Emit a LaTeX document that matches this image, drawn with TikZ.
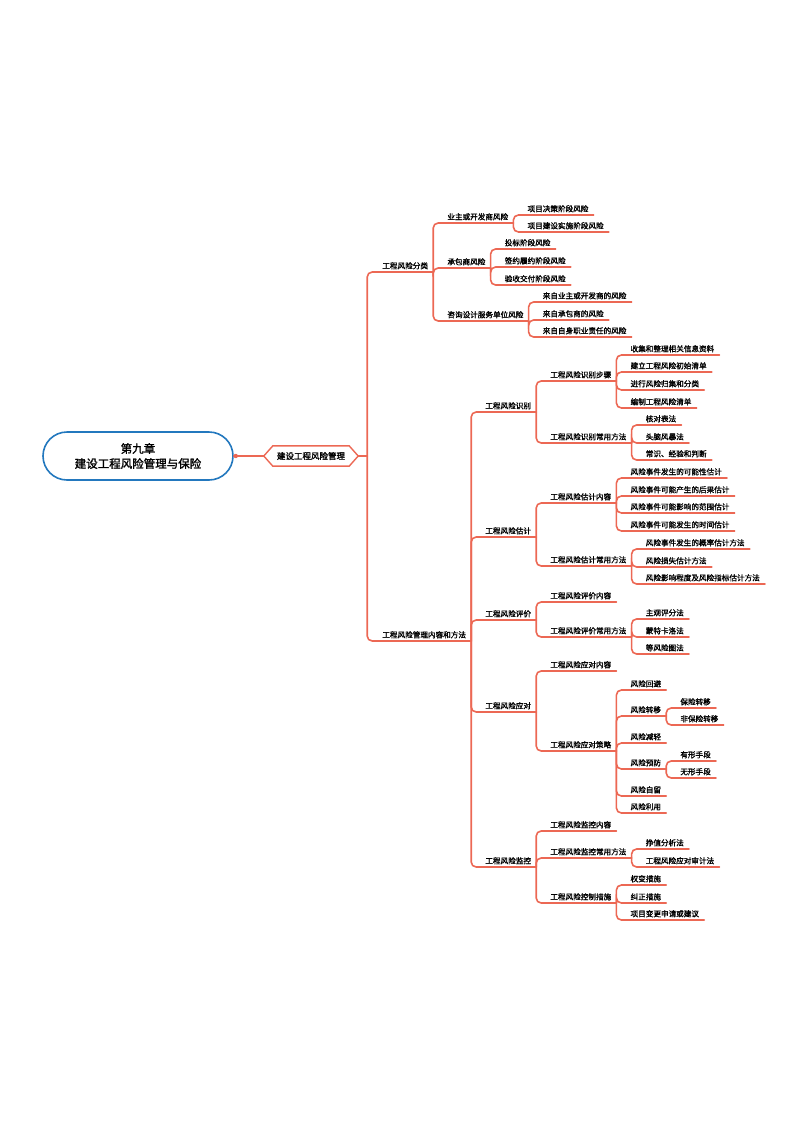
\documentclass[tikz,border=0pt]{standalone}
\usepackage{fontspec}
\setmainfont{Noto Sans CJK SC}[AutoFakeBold=1.6]
\usetikzlibrary{calc}
\definecolor{br}{RGB}{236,104,84}
\definecolor{rb}{RGB}{35,120,190}
\tikzset{
  lf/.style={anchor=south west,inner xsep=5pt,inner ysep=2.5pt,font=\bfseries\fontsize{7.6}{8}\selectfont,
    append after command={(\tikzlastnode.south west) edge[brl] (\tikzlastnode.south east)}},
  brl/.style={draw=br,line width=1.6pt,line cap=round},
  brc/.style={brl,rounded corners=5pt},
}
\newcommand{\kid}[4]{%
  \path (#1.south east) ++(9,0) coordinate (tmp);
  \node[lf] (#2) at (tmp |- 0,#3) {#4};
  \draw[brc] (#1.south east) |- (#2.south west);}
\begin{document}
\begin{tikzpicture}[x=1pt,y=-1pt]
\useasboundingbox (0,0) rectangle (800,1130);
\node[draw=rb,line width=1.6pt,rounded corners=24pt,minimum width=190pt,minimum height=48pt,align=center,
  font=\bfseries\fontsize{11.5}{15}\selectfont] (root) at (138,456) {第九章\\建设工程风险管理与保险};
\node[inner xsep=13pt,inner ysep=6pt,font=\bfseries\fontsize{8.5}{9}\selectfont] (h) at (311,456) {建设工程风险管理};
\draw[brl,line width=1.4pt] (h.west) -- ([xshift=9]h.north west) -- ([xshift=-9]h.north east) -- (h.east) -- ([xshift=-9]h.south east) -- ([xshift=9]h.south west) -- cycle;
\draw[brl] (root.east) -- (h.west);
\fill[br] (root.east) ++(2,0) circle (2.2pt);
\coordinate (hx) at ($(h.east)+(9,0)$);
\draw[brl] (h.east) -- (hx);
\node[lf] (a) at ($(hx|-0,272)+(10,0)$) {工程风险分类};
\node[lf] (b) at ($(hx|-0,641)+(10,0)$) {工程风险管理内容和方法};
\draw[brc] (hx) |- (a.south west);
\draw[brc] (hx) |- (b.south west);
% 分类
\kid{a}{a1}{223}{业主或开发商风险}
\kid{a}{a2}{268}{承包商风险}
\kid{a}{a3}{321}{咨询设计服务单位风险}
\kid{a1}{a11}{215}{项目决策阶段风险}
\kid{a1}{a12}{232}{项目建设实施阶段风险}
\kid{a2}{a21}{249}{投标阶段风险}
\kid{a2}{a22}{267}{签约履约阶段风险}
\kid{a2}{a23}{285}{验收交付阶段风险}
\kid{a3}{a31}{302}{来自业主或开发商的风险}
\kid{a3}{a32}{320}{来自承包商的风险}
\kid{a3}{a33}{337}{来自自身职业责任的风险}
% 内容和方法
\kid{b}{b1}{412}{工程风险识别}
\kid{b}{b2}{537}{工程风险估计}
\kid{b}{b3}{620}{工程风险评价}
\kid{b}{b4}{712}{工程风险应对}
\kid{b}{b5}{867}{工程风险监控}
\kid{b1}{b11}{381}{工程风险识别步骤}
\kid{b1}{b12}{443}{工程风险识别常用方法}
\kid{b11}{c1}{355}{收集和整理相关信息资料}
\kid{b11}{c2}{372}{建立工程风险初始清单}
\kid{b11}{c3}{390}{进行风险归集和分类}
\kid{b11}{c4}{408}{编制工程风险清单}
\kid{b12}{c5}{425}{核对表法}
\kid{b12}{c6}{443}{头脑风暴法}
\kid{b12}{c7}{460}{常识、经验和判断}
\kid{b2}{b21}{503}{工程风险估计内容}
\kid{b2}{b22}{566}{工程风险估计常用方法}
\kid{b21}{d1}{478}{风险事件发生的可能性估计}
\kid{b21}{d2}{496}{风险事件可能产生的后果估计}
\kid{b21}{d3}{513}{风险事件可能影响的范围估计}
\kid{b21}{d4}{531}{风险事件可能发生的时间估计}
\kid{b22}{d5}{549}{风险事件发生的概率估计方法}
\kid{b22}{d6}{567}{风险损失估计方法}
\kid{b22}{d7}{584}{风险影响程度及风险指标估计方法}
\kid{b3}{b31}{602}{工程风险评价内容}
\kid{b3}{b32}{637}{工程风险评价常用方法}
\kid{b32}{e1}{619}{主观评分法}
\kid{b32}{e2}{637}{蒙特卡洛法}
\kid{b32}{e3}{654}{等风险图法}
\kid{b4}{b41}{671}{工程风险应对内容}
\kid{b4}{b42}{751}{工程风险应对策略}
\kid{b42}{f1}{690}{风险回避}
\kid{b42}{f2}{716}{风险转移}
\kid{b42}{f3}{743}{风险减轻}
\kid{b42}{f4}{769}{风险预防}
\kid{b42}{f5}{796}{风险自留}
\kid{b42}{f6}{813}{风险利用}
\kid{f2}{g1}{708}{保险转移}
\kid{f2}{g2}{725}{非保险转移}
\kid{f4}{g3}{761}{有形手段}
\kid{f4}{g4}{778}{无形手段}
\kid{b5}{b51}{831}{工程风险监控内容}
\kid{b5}{b52}{858}{工程风险监控常用方法}
\kid{b5}{b53}{903}{工程风险控制措施}
\kid{b52}{h1}{849}{挣值分析法}
\kid{b52}{h2}{867}{工程风险应对审计法}
\kid{b53}{h3}{885}{权变措施}
\kid{b53}{h4}{903}{纠正措施}
\kid{b53}{h5}{920}{项目变更申请或建议}
\end{tikzpicture}
\end{document}
